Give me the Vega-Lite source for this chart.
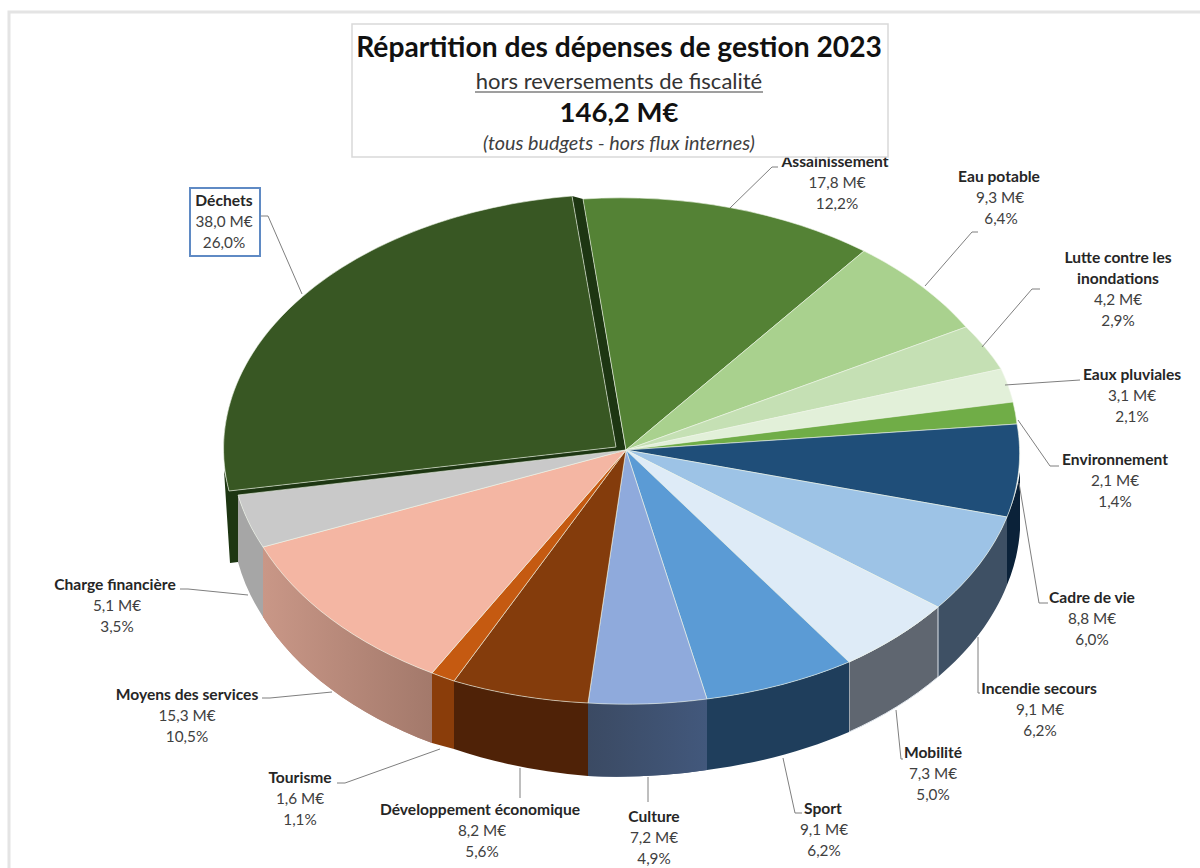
{
"$schema":"https://vega.github.io/schema/vega-lite/v6.json",
"width":1200,"height":868,"padding":0,"autosize":{"type":"none"},"background":"white",
"config":{"view":{"stroke":null},"locale":{"number":{"decimal":",","thousands":" ","grouping":[3],"currency":[""," M€"]}}},
"datasets":{"postes":[
{"rang":1,"poste":"Déchets","nom":"Déchets","montant":38.0,"part":0.26},
{"rang":2,"poste":"Assainissement","nom":"Assainissement","montant":17.8,"part":0.122},
{"rang":3,"poste":"Eau potable","nom":"Eau potable","montant":9.3,"part":0.064},
{"rang":4,"poste":"Lutte contre les inondations","nom":"Lutte contre les\ninondations","montant":4.2,"part":0.029},
{"rang":5,"poste":"Eaux pluviales","nom":"Eaux pluviales","montant":3.1,"part":0.021},
{"rang":6,"poste":"Environnement","nom":"Environnement","montant":2.1,"part":0.014},
{"rang":7,"poste":"Cadre de vie","nom":"Cadre de vie","montant":8.8,"part":0.06},
{"rang":8,"poste":"Incendie secours","nom":"Incendie secours","montant":9.1,"part":0.062},
{"rang":9,"poste":"Mobilité","nom":"Mobilité","montant":7.3,"part":0.05},
{"rang":10,"poste":"Sport","nom":"Sport","montant":9.1,"part":0.062},
{"rang":11,"poste":"Culture","nom":"Culture","montant":7.2,"part":0.049},
{"rang":12,"poste":"Développement économique","nom":"Développement économique","montant":8.2,"part":0.056},
{"rang":13,"poste":"Tourisme","nom":"Tourisme","montant":1.6,"part":0.011},
{"rang":14,"poste":"Moyens des services","nom":"Moyens des services","montant":15.3,"part":0.105},
{"rang":15,"poste":"Charge financière","nom":"Charge financière","montant":5.1,"part":0.035}
]},
"data":{"name":"postes"},
"resolve":{"scale":{"x":"independent","y":"independent","shape":"independent","fill":"independent","stroke":"independent"}},
"layer":[
{"data":{"values":[{"cadre":"page"}]},
 "mark":{"type":"point","filled":false,"stroke":"#e4e4e4","strokeWidth":3,"opacity":1},
 "encoding":{"x":{"datum":0,"type":"quantitative","scale":{"domain":[0,1200],"range":[0,1200]},"axis":null},
  "y":{"datum":0,"type":"quantitative","scale":{"domain":[0,868],"range":[0,868]},"axis":null},
  "size":{"value":4},"shape":{"value":"M9,868 L9,12 L1200,12"}}},
{"transform":[{"filter":{"not":{"field":"rang","range":[2,6]}}}],
 "mark":{"type":"point","filled":true,"opacity":1,"strokeWidth":1},
 "encoding":{"x":{"datum":0,"type":"quantitative","scale":{"domain":[0,1200],"range":[0,1200]},"axis":null},
  "y":{"datum":0,"type":"quantitative","scale":{"domain":[0,868],"range":[0,868]},"axis":null},
  "size":{"value":4},
  "shape":{"field":"poste","type":"nominal","legend":null,"sort":null,"scale":{
   "domain":["Déchets","Cadre de vie","Incendie secours","Mobilité","Sport","Culture","Développement économique","Tourisme","Moyens des services","Charge financière"],
   "range":[
   "M229,491 L238,497 L626,452 L583,199 L572,196 L616,447 Z M224,470 L230,563 L238,562 L238,496 L229,491 Z",
   "M1020,472 L1020,530 A398,255 0 0 1 1007,585 L1007,517 A398,255 0 0 0 1020,472 Z",
   "M1007,517 A398,255 0 0 1 938,607 L938,677 A398,255 0 0 0 1007,585 Z",
   "M938,607 A398,255 0 0 1 849,662 L849,732 A398,255 0 0 0 938,677 Z",
   "M849,662 A398,255 0 0 1 707,699 L707,770 A398,255 0 0 0 849,732 Z",
   "M707,699 A398,255 0 0 1 588,703 L588,776 A398,255 0 0 0 707,770 Z",
   "M588,703 A398,255 0 0 1 454,681 L454,749 A398,255 0 0 0 588,776 Z",
   "M454,681 A398,255 0 0 1 432,673 L432,743 A398,255 0 0 0 454,749 Z",
   "M432,673 A398,255 0 0 1 263,547 L263,617 A398,255 0 0 0 432,743 Z",
   "M263,547 A398,255 0 0 1 238,495 L238,562 A398,255 0 0 0 263,617 Z"]}},
  "fill":{"field":"poste","type":"nominal","legend":null,"scale":{
   "domain":["Déchets","Cadre de vie","Incendie secours","Mobilité","Sport","Culture","Développement économique","Tourisme","Moyens des services","Charge financière"],
   "range":["#1d3612","#0b2239","#3e5064","#5f6670","#1f3e5c","#3f5272","#4f2207","#8a3d0a","#b68878","#a6a6a6"]}},
  "stroke":{"field":"poste","type":"nominal","legend":null,"scale":{
   "domain":["Déchets","Cadre de vie","Incendie secours","Mobilité","Sport","Culture","Développement économique","Tourisme","Moyens des services","Charge financière"],
   "range":["transparent","transparent","transparent","#dfe5ec","transparent","transparent","transparent","transparent","transparent","transparent"]}}}},
{"transform":[{"filter":{"field":"poste","equal":"Moyens des services"}}],
 "mark":{"type":"point","filled":true,"opacity":1,"fill":{"gradient":"linear","x1":0,"x2":1,"y1":0,"y2":0,"stops":[{"offset":0,"color":"#c99787"},{"offset":1,"color":"#a3796b"}]}},
 "encoding":{"x":{"datum":0,"type":"quantitative","scale":{"domain":[0,1200],"range":[0,1200]},"axis":null},
  "y":{"datum":0,"type":"quantitative","scale":{"domain":[0,868],"range":[0,868]},"axis":null},
  "size":{"value":4},"shape":{"value":"M432,673 A398,255 0 0 1 263,547 L263,617 A398,255 0 0 0 432,743 Z"}}},
{"transform":[{"filter":{"field":"poste","equal":"Culture"}}],
 "mark":{"type":"point","filled":true,"opacity":1,"fill":{"gradient":"linear","x1":0,"x2":1,"y1":0,"y2":0,"stops":[{"offset":0,"color":"#3b4a63"},{"offset":1,"color":"#42587c"}]}},
 "encoding":{"x":{"datum":0,"type":"quantitative","scale":{"domain":[0,1200],"range":[0,1200]},"axis":null},
  "y":{"datum":0,"type":"quantitative","scale":{"domain":[0,868],"range":[0,868]},"axis":null},
  "size":{"value":4},"shape":{"value":"M707,699 A398,255 0 0 1 588,703 L588,776 A398,255 0 0 0 707,770 Z"}}},
{"mark":{"type":"point","filled":true,"opacity":1,"strokeWidth":0.8,"stroke":"#eef5e8","strokeOpacity":0.75},
 "encoding":{"x":{"datum":0,"type":"quantitative","scale":{"domain":[0,1200],"range":[0,1200]},"axis":null},
  "y":{"datum":0,"type":"quantitative","scale":{"domain":[0,868],"range":[0,868]},"axis":null},
  "size":{"value":4},
  "shape":{"field":"poste","type":"nominal","legend":null,"scale":{
   "domain":["Déchets","Assainissement","Eau potable","Lutte contre les inondations","Eaux pluviales","Environnement","Cadre de vie","Incendie secours","Mobilité","Sport","Culture","Développement économique","Tourisme","Moyens des services","Charge financière"],
   "range":[
   "M616,447 L229,491 A398,255 0 0 1 572,196 Z",
   "M626,450 L583,199 A398,255 0 0 1 864,251 Z",
   "M626,450 L864,251 A398,255 0 0 1 966,327 Z",
   "M626,450 L966,327 A398,255 0 0 1 1001,369 Z",
   "M626,450 L1001,369 A398,255 0 0 1 1013,402 Z",
   "M626,450 L1013,402 A398,255 0 0 1 1017,424 Z",
   "M626,450 L1017,424 A398,255 0 0 1 1007,517 Z",
   "M626,450 L1007,517 A398,255 0 0 1 938,607 Z",
   "M626,450 L938,607 A398,255 0 0 1 849,662 Z",
   "M626,450 L849,662 A398,255 0 0 1 707,699 Z",
   "M626,450 L707,699 A398,255 0 0 1 588,703 Z",
   "M626,450 L588,703 A398,255 0 0 1 454,681 Z",
   "M626,450 L454,681 A398,255 0 0 1 432,673 Z",
   "M626,450 L432,673 A398,255 0 0 1 263,547 Z",
   "M626,450 L263,547 A398,255 0 0 1 238,495 Z"]}},
  "fill":{"field":"poste","type":"nominal","legend":null,"scale":{
   "domain":["Déchets","Assainissement","Eau potable","Lutte contre les inondations","Eaux pluviales","Environnement","Cadre de vie","Incendie secours","Mobilité","Sport","Culture","Développement économique","Tourisme","Moyens des services","Charge financière"],
   "range":["#385723","#548235","#a9d18e","#c5e0b4","#e2f0d9","#70ad47","#1f4e79","#9dc3e6","#deebf7","#5b9bd5","#8faadc","#843c0c","#c55a11","#f4b6a3","#c9c9c9"]}}}},
{"mark":{"type":"point","filled":false,"opacity":1,"stroke":"#7f7f7f","strokeWidth":1},
 "encoding":{"x":{"datum":0,"type":"quantitative","scale":{"domain":[0,1200],"range":[0,1200]},"axis":null},
  "y":{"datum":0,"type":"quantitative","scale":{"domain":[0,868],"range":[0,868]},"axis":null},
  "size":{"value":4},
  "shape":{"field":"poste","type":"nominal","legend":null,"scale":{
   "domain":["Déchets","Assainissement","Eau potable","Lutte contre les inondations","Eaux pluviales","Environnement","Cadre de vie","Incendie secours","Mobilité","Sport","Culture","Développement économique","Tourisme","Moyens des services","Charge financière"],
   "range":[
   "M261,216 L268,216 L302,294","M730,208 L772,167 L778,167","M925,286 L972,232 L978,232","M982,347 L1032,289 L1040,289","M1005,385 L1080,380","M1018,420 L1050,466 L1059,466","M1019,483 L1039,603 L1048,603","M978,637 L978,693 L980,693","M896,710 L901,759 L903,759","M783,758 L795,813 L802,813","M648,777 L648,802","M520,768 L520,798","M440,749 L345,783 L337,783","M332,692 L270,698 L262,698","M248,595 L188,589 L180,589"]}}}},
{"data":{"values":[{"cadre":"Déchets"}]},
 "mark":{"type":"point","filled":true,"opacity":1,"fill":"white","stroke":"#5f8ac4","strokeWidth":2},
 "encoding":{"x":{"datum":0,"type":"quantitative","scale":{"domain":[0,1200],"range":[0,1200]},"axis":null},
  "y":{"datum":0,"type":"quantitative","scale":{"domain":[0,868],"range":[0,868]},"axis":null},
  "size":{"value":4},"shape":{"value":"M190,188 L260,188 L260,256 L190,256 Z"}}},
{"mark":{"type":"text","font":"Lato","fontWeight":"bold","fontSize":15.6,"color":"#262626","baseline":"bottom","lineBreak":"\n","lineHeight":21},
 "encoding":{"text":{"field":"nom"},
  "x":{"field":"rang","type":"quantitative","axis":null,"scale":{"domain":[1,2,3,4,5,6,7,8,9,10,11,12,13,14,15],"range":[224,835,999,1118,1132,1115,1092,1039,933,823,654,480,300,187,115]}},
  "y":{"field":"rang","type":"quantitative","axis":null,"scale":{"domain":[1,2,3,4,5,6,7,8,9,10,11,12,13,14,15],"range":[209,170,185,266,383,468,606,697,761,817,825,818,786,703,593]}}}},
{"mark":{"type":"text","font":"Lato","fontSize":15.3,"color":"#404040","baseline":"bottom","dy":21},
 "encoding":{"text":{"field":"montant","type":"quantitative","format":"$.1f"},
  "x":{"field":"rang","type":"quantitative","axis":null,"scale":{"domain":[1,2,3,4,5,6,7,8,9,10,11,12,13,14,15],"range":[224,837,1000,1118,1132,1115,1092,1040,933,824,654,482,300,187,117]}},
  "y":{"field":"rang","type":"quantitative","axis":null,"scale":{"domain":[1,2,3,4,5,6,7,8,9,10,11,12,13,14,15],"range":[209,170,185,287,383,468,606,697,761,817,825,818,786,703,593]}}}},
{"mark":{"type":"text","font":"Lato","fontSize":15.3,"color":"#404040","baseline":"bottom","dy":42},
 "encoding":{"text":{"field":"part","type":"quantitative","format":".1%"},
  "x":{"field":"rang","type":"quantitative","axis":null,"scale":{"domain":[1,2,3,4,5,6,7,8,9,10,11,12,13,14,15],"range":[224,837,1001,1118,1132,1115,1092,1040,933,824,654,482,300,187,117]}},
  "y":{"field":"rang","type":"quantitative","axis":null,"scale":{"domain":[1,2,3,4,5,6,7,8,9,10,11,12,13,14,15],"range":[209,170,185,287,383,468,606,697,761,817,825,818,786,703,593]}}}},
{"data":{"values":[{"cadre":"titre"}]},
 "mark":{"type":"point","filled":true,"opacity":1,"fill":"white","stroke":"#d9d9d9","strokeWidth":1.5},
 "encoding":{"x":{"datum":0,"type":"quantitative","scale":{"domain":[0,1200],"range":[0,1200]},"axis":null},
  "y":{"datum":0,"type":"quantitative","scale":{"domain":[0,868],"range":[0,868]},"axis":null},
  "size":{"value":4},"shape":{"value":"M352,24 L888,24 L888,157 L352,157 Z"}}},
{"data":{"values":[{"cadre":"souligne"}]},
 "mark":{"type":"point","filled":false,"opacity":1,"stroke":"#404040","strokeWidth":1.2},
 "encoding":{"x":{"datum":0,"type":"quantitative","scale":{"domain":[0,1200],"range":[0,1200]},"axis":null},
  "y":{"datum":0,"type":"quantitative","scale":{"domain":[0,868],"range":[0,868]},"axis":null},
  "size":{"value":4},"shape":{"value":"M475,92 L763,92"}}},
{"data":{"values":[{"ligne":"Répartition des dépenses de gestion 2023"}]},
 "mark":{"type":"text","font":"Lato","fontWeight":"bold","fontSize":28.2,"color":"#111111","baseline":"middle"},
 "encoding":{"x":{"datum":619,"type":"quantitative","scale":{"domain":[0,1200],"range":[0,1200]},"axis":null},"y":{"datum":49,"type":"quantitative","scale":{"domain":[0,868],"range":[0,868]},"axis":null},"text":{"field":"ligne"}}},
{"data":{"values":[{"ligne":"hors reversements de fiscalité"}]},
 "mark":{"type":"text","font":"Lato","fontSize":22,"color":"#333333","baseline":"middle"},
 "encoding":{"x":{"datum":619,"type":"quantitative","scale":{"domain":[0,1200],"range":[0,1200]},"axis":null},"y":{"datum":82,"type":"quantitative","scale":{"domain":[0,868],"range":[0,868]},"axis":null},"text":{"field":"ligne"}}},
{"data":{"values":[{"ligne":"146,2 M€"}]},
 "mark":{"type":"text","font":"Lato","fontWeight":"bold","fontSize":27.5,"color":"#111111","baseline":"middle"},
 "encoding":{"x":{"datum":619,"type":"quantitative","scale":{"domain":[0,1200],"range":[0,1200]},"axis":null},"y":{"datum":114,"type":"quantitative","scale":{"domain":[0,868],"range":[0,868]},"axis":null},"text":{"field":"ligne"}}},
{"data":{"values":[{"ligne":"(tous budgets - hors flux internes)"}]},
 "mark":{"type":"text","font":"Lato","fontStyle":"italic","fontSize":19.8,"color":"#404040","baseline":"middle"},
 "encoding":{"x":{"datum":619,"type":"quantitative","scale":{"domain":[0,1200],"range":[0,1200]},"axis":null},"y":{"datum":144,"type":"quantitative","scale":{"domain":[0,868],"range":[0,868]},"axis":null},"text":{"field":"ligne"}}}
]}
